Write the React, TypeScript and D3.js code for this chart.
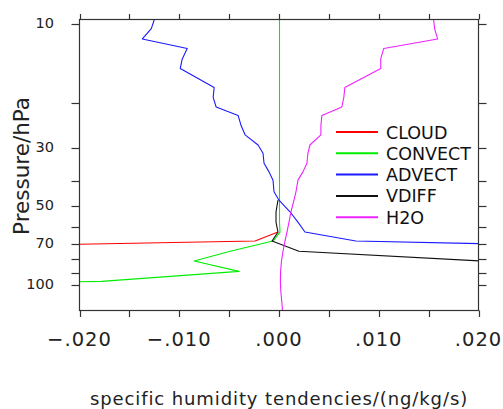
import React from "react";
import * as d3 from "d3";

const pressure = [9.6, 10.4, 11.4, 12.4, 13.6, 14.8, 16.1, 17.5, 19.1, 20.8, 22.4, 24.5, 26.6, 29.1, 31.3, 34.2, 36.9, 39.7, 44.0, 47.4, 52.5, 57.5, 62.8, 68.0, 74.4, 81.1, 88.9, 97.1, 106.0, 115.0, 125.6];

const cloud: (number | null)[] = [null, null, null, null, null, null, null, null, null, null, null, null, null, null, null, null, null, null, null, null, null, null, -0.0001, -0.0024, -0.058, null, null, null, null, null, null];
const convect: (number | null)[] = [0.00005, 0.00005, 0.00005, 0.00005, 0.00005, 0.00005, 0.00005, 0.00005, 0.00005, 0.00005, 0.00005, 0.00005, 0.00005, 0.00005, 0.00005, 0.00005, 0.00005, 0.00005, 0.00005, 0.00005, 0.00005, 0.00005, 0.0001, -0.0006, -0.0049, -0.0085, -0.0040, -0.0178, -0.09, null, null];
const advect: (number | null)[] = [-0.0125, -0.0128, -0.0137, -0.0092, -0.0097, -0.0099, -0.0082, -0.0065, -0.0066, -0.0063, -0.0041, -0.0038, -0.0034, -0.0021, -0.0016, -0.0015, -0.0010, -0.0006, -0.0005, 0.0000, 0.0011, 0.0019, 0.0026, 0.0077, 0.057, null, null, null, null, null, null];
const vdiff: (number | null)[] = [null, null, null, null, null, null, null, null, null, null, null, null, null, null, null, null, null, null, null, -0.0001, -0.0003, -0.0003, -0.0001, -0.0007, 0.0020, 0.0202, 0.045, null, null, null, null];
const h2o: (number | null)[] = [0.0155, 0.0156, 0.0159, 0.0105, 0.0102, 0.0102, 0.0084, 0.0066, 0.0065, 0.0063, 0.0043, 0.0042, 0.0042, 0.0031, 0.0029, 0.0028, 0.0024, 0.0019, 0.0017, 0.0015, 0.0012, 0.0010, 0.0008, 0.0006, 0.0004, 0.00025, 0.00016, 0.00014, 0.00018, 0.00027, 0.00035];

const seriesNames = ["CLOUD", "CONVECT", "ADVECT", "VDIFF", "H2O"];
const seriesValues = [cloud, convect, advect, vdiff, h2o];
const seriesColors = ["#ff0000", "#00ee00", "#1a1aff", "#111111", "#ee22ff"];

const xTicks = [-0.02, -0.015, -0.01, -0.005, 0, 0.005, 0.01, 0.015, 0.02];
const xTickLabels = [-0.02, -0.01, 0, 0.01, 0.02];
const yTicks = [10, 20, 30, 40, 50, 60, 70, 80, 90, 100];
const yTickLabels = [10, 30, 50, 70, 100];

const W = 503, H = 409;
const L = 79.5, R = 478.5, T = 19.5, B = 310.5;

const fmtX = (v: number) => {
  const s = Math.abs(v).toFixed(3).replace(/^0/, "");
  return (v < -1e-9 ? "\u2212" : "") + s;
};

export default function App() {
  const x = d3.scaleLinear().domain([-0.02, 0.02]).range([L, R]);
  const y = d3.scaleLog().domain([pressure[0], pressure[pressure.length - 1]]).range([T, B]);
  const font = "DejaVu Sans, sans-serif";
  const textColor = "#222";
  const axisColor = "#333";

  const lineFor = (vals: (number | null)[]) =>
    d3
      .line<number>()
      .defined((i) => vals[i] !== null)
      .x((i) => x(vals[i] as number))
      .y((i) => y(pressure[i]))(pressure.map((_, i) => i)) || "";

  const legendY0 = 132;
  const legendStep = 21.3;

  return (
    <svg width={W} height={H} style={{ display: "block", position: "absolute", left: 0, top: 0, background: "#fff" }}>
      <defs>
        <clipPath id="plotClip">
          <rect x={L} y={T} width={R - L} height={B - T} />
        </clipPath>
      </defs>
      <rect x={0} y={0} width={W} height={H} fill="#fff" />
      <g clipPath="url(#plotClip)">
        {seriesValues.map((vals, k) => (
          <path key={k} d={lineFor(vals)} fill="none" stroke={seriesColors[k]} strokeWidth={1.1} strokeLinejoin="round" />
        ))}
      </g>
      <rect x={L} y={T} width={R - L} height={B - T} fill="none" stroke={axisColor} strokeWidth={1.2} />
      {xTicks.map((t, i) => (
        <g key={"xt" + i}>
          <line x1={Math.round(x(t)) + 0.5} x2={Math.round(x(t)) + 0.5} y1={T} y2={T - 5.5} stroke={axisColor} strokeWidth={1.2} />
          <line x1={Math.round(x(t)) + 0.5} x2={Math.round(x(t)) + 0.5} y1={B} y2={B + 6.5} stroke={axisColor} strokeWidth={1.2} />
        </g>
      ))}
      {xTickLabels.map((t, i) => (
        <text key={"xl" + i} x={x(t)} y={345.5} textAnchor="middle" fontFamily={font} fontSize={19.5} letterSpacing={1} fill={textColor}>
          {fmtX(t)}
        </text>
      ))}
      {yTicks.map((t, i) => (
        <g key={"yt" + i}>
          <line x1={L} x2={L - 8} y1={Math.round(y(t)) + 0.5} y2={Math.round(y(t)) + 0.5} stroke={axisColor} strokeWidth={1.2} />
          <line x1={R} x2={R + 8} y1={Math.round(y(t)) + 0.5} y2={Math.round(y(t)) + 0.5} stroke={axisColor} strokeWidth={1.2} />
        </g>
      ))}
      {yTickLabels.map((t, i) => (
        <text key={"yl" + i} x={54} y={y(t) + 4} textAnchor="end" fontFamily={font} fontSize={14.5} fill={textColor}>
          {t}
        </text>
      ))}
      <text transform={`translate(29,166) rotate(-90)`} textAnchor="middle" fontFamily={font} fontSize={21.5} fill={textColor}>
        Pressure/hPa
      </text>
      <text x={279} y={405} textAnchor="middle" fontFamily={font} fontSize={18} letterSpacing={0.9} fill={textColor}>
        specific humidity tendencies/(ng/kg/s)
      </text>
      {seriesNames.map((name, k) => (
        <g key={"lg" + k}>
          <line x1={336} x2={378} y1={legendY0 + k * legendStep} y2={legendY0 + k * legendStep} stroke={seriesColors[k]} strokeWidth={2} />
          <text x={386} y={legendY0 + k * legendStep + 6.5} fontFamily={font} fontSize={17.5} fill="#111">
            {name}
          </text>
        </g>
      ))}
    </svg>
  );
}
